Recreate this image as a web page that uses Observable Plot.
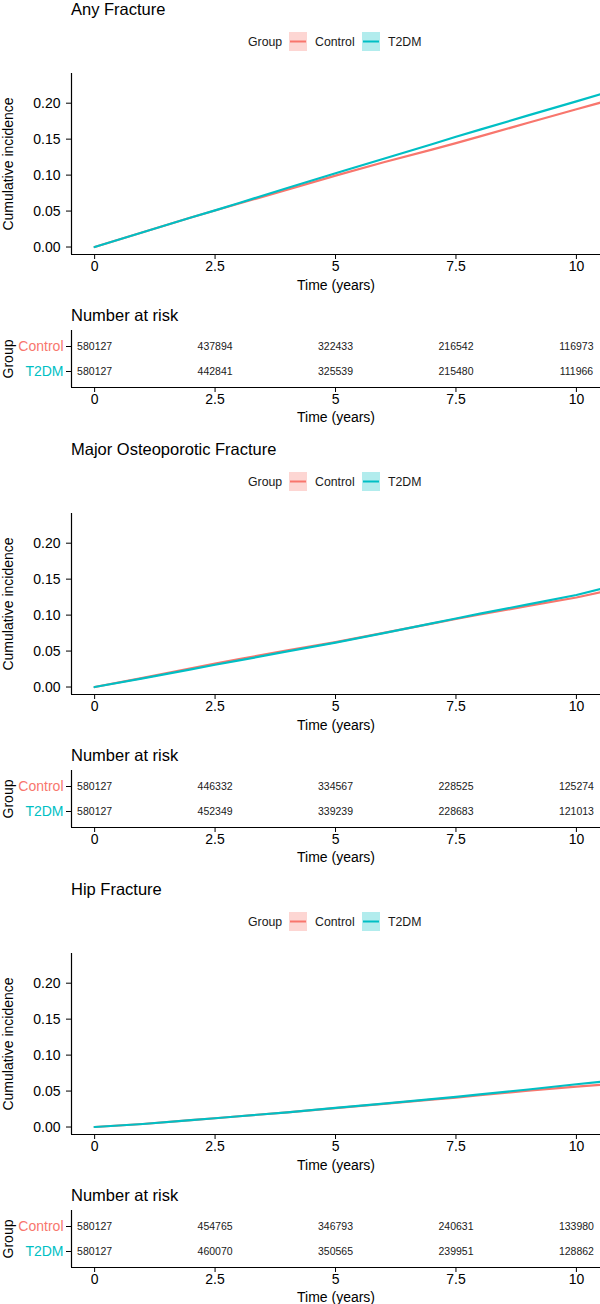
<!DOCTYPE html>
<html><head><meta charset="utf-8">
<script src="https://cdn.jsdelivr.net/npm/d3@7"></script>
<script src="https://cdn.jsdelivr.net/npm/@observablehq/plot@0.6"></script>
<style>
body{margin:0;background:#fff;font-family:"Liberation Sans",Arial,sans-serif;}
#root{position:relative;width:600px;height:1304px;overflow:hidden;background:#fff}
.abs{position:absolute;white-space:nowrap}
.title{font-size:16.5px;color:#000;line-height:17px}
.leg{font-size:12.3px;color:#1a1a1a;line-height:14px}
.abs svg{display:block}
</style></head><body><div id="root"></div><script>
// ---- data ----
const panelTitles = ["Any Fracture", "Major Osteoporotic Fracture", "Hip Fracture"];
const groups = ["Control", "T2DM"];
const groupColors = ["#F8766D", "#00BFC4"];
const times = [0, 1, 2, 2.5, 3, 4, 5, 6, 7, 7.5, 8, 9, 10, 10.5];

const anyControl = [0, 0.0205, 0.041, 0.0508, 0.0605, 0.0798, 0.0993, 0.1178, 0.1355, 0.1445, 0.1538, 0.1728, 0.1915, 0.2008];
const anyT2DM    = [0, 0.0205, 0.041, 0.051, 0.0613, 0.082, 0.1025, 0.1228, 0.143, 0.1533, 0.1632, 0.183, 0.2025, 0.2125];
const mofControl = [0, 0.0128, 0.026, 0.0325, 0.0387, 0.051, 0.0625, 0.0752, 0.0882, 0.0946, 0.1008, 0.1128, 0.1245, 0.1317];
const mofT2DM    = [0, 0.012, 0.0245, 0.031, 0.037, 0.0495, 0.0618, 0.075, 0.0886, 0.0953, 0.102, 0.115, 0.128, 0.1362];
const hipControl = [0, 0.0042, 0.0095, 0.0122, 0.015, 0.0205, 0.0263, 0.0322, 0.038, 0.041, 0.0442, 0.0505, 0.0562, 0.0588];
const hipT2DM    = [0, 0.0042, 0.0095, 0.0122, 0.015, 0.0205, 0.0265, 0.0325, 0.0388, 0.042, 0.0455, 0.0522, 0.0595, 0.063];

const riskTimes = [0, 2.5, 5, 7.5, 10];
const anyRiskControl = [580127, 437894, 322433, 216542, 116973];
const anyRiskT2DM    = [580127, 442841, 325539, 215480, 111966];
const mofRiskControl = [580127, 446332, 334567, 228525, 125274];
const mofRiskT2DM    = [580127, 452349, 339239, 228683, 121013];
const hipRiskControl = [580127, 454765, 346793, 240631, 133980];
const hipRiskT2DM    = [580127, 460070, 350565, 239951, 128862];

const xTicks = [0, 2.5, 5, 7.5, 10];
const yTicks = [0, 0.05, 0.10, 0.15, 0.20];

// ---- layout ----
const panels = [
  {title: panelTitles[0], c: anyControl, t: anyT2DM, rc: anyRiskControl, rt: anyRiskT2DM},
  {title: panelTitles[1], c: mofControl, t: mofT2DM, rc: mofRiskControl, rt: mofRiskT2DM},
  {title: panelTitles[2], c: hipControl, t: hipT2DM, rc: hipRiskControl, rt: hipRiskT2DM}
];
const root = document.getElementById("root");
const FONT = "Liberation Sans, Arial, sans-serif";
const xDomain = [-0.48, 10.5];
const yDomain = [-0.0104, 0.2413];

function place(el, left, top) {
  const d = document.createElement("div");
  d.className = "abs";
  d.style.left = left + "px";
  d.style.top = top + "px";
  d.appendChild(el);
  root.appendChild(d);
  return d;
}
function textDiv(txt, cls, left, top) {
  const s = document.createElement("span");
  s.textContent = txt;
  const d = place(s, left, top);
  d.classList.add(cls);
  return d;
}
function swatch(color, alphaFill) {
  const ns = "http://www.w3.org/2000/svg";
  const svg = document.createElementNS(ns, "svg");
  svg.setAttribute("width", 18); svg.setAttribute("height", 19);
  const r = document.createElementNS(ns, "rect");
  r.setAttribute("width", 18); r.setAttribute("height", 19); r.setAttribute("fill", alphaFill);
  const l = document.createElementNS(ns, "line");
  l.setAttribute("x1", 1); l.setAttribute("x2", 17); l.setAttribute("y1", 9.5); l.setAttribute("y2", 9.5);
  l.setAttribute("stroke", color); l.setAttribute("stroke-width", 2);
  svg.appendChild(r); svg.appendChild(l);
  return svg;
}

panels.forEach((p, i) => {
  const off = 440 * i;
  textDiv(p.title, "title", 71, off + 0.5);
  // legend
  textDiv("Group", "leg", 248, off + 34.5);
  place(swatch(groupColors[0], "rgba(248,118,109,0.3)"), 289, off + 32);
  textDiv(groups[0], "leg", 315, off + 34.5);
  place(swatch(groupColors[1], "rgba(0,191,196,0.3)"), 362, off + 32);
  textDiv(groups[1], "leg", 388, off + 34.5);

  const rows = [];
  times.forEach((tm, j) => rows.push({time: tm, value: p.c[j], group: groups[0]}));
  times.forEach((tm, j) => rows.push({time: tm, value: p.t[j], group: groups[1]}));

  const curve = Plot.plot({
    width: 600, height: 234, marginTop: 13, marginBottom: 40, marginLeft: 71, marginRight: 0,
    style: {fontFamily: FONT, background: "transparent", color: "#000", overflow: "visible"},
    x: {domain: xDomain},
    y: {domain: yDomain},
    color: {domain: groups, range: groupColors},
    marks: [
      Plot.ruleX([xDomain[0]], {stroke: "#000", strokeWidth: 1.2}),
      Plot.ruleY([yDomain[0]], {stroke: "#000", strokeWidth: 1.2}),
      Plot.axisX({ticks: xTicks, tickFormat: d => String(d), tickSize: 5, tickPadding: 2, fontSize: 14, label: null}),
      Plot.axisY({ticks: yTicks, tickFormat: d3.format(".2f"), tickSize: 5, tickPadding: 6, fontSize: 14, label: null}),
      Plot.line(rows, {x: "time", y: "value", stroke: "group", strokeWidth: 2.2}),
      Plot.text(["Time (years)"], {frameAnchor: "bottom", dy: 31, lineAnchor: "middle", textAnchor: "middle", fontSize: 14, fill: "#000"}),
      Plot.text(["Cumulative incidence"], {frameAnchor: "left", dx: -63, rotate: -90, textAnchor: "middle", lineAnchor: "middle", fontSize: 14, fill: "#000"})
    ]
  });
  place(curve, 0, off + 60);

  // risk table
  textDiv("Number at risk", "title", 71, off + 306.5);
  const riskRows = [];
  riskTimes.forEach((tm, j) => riskRows.push({time: tm, group: groups[0], n: p.rc[j]}));
  riskTimes.forEach((tm, j) => riskRows.push({time: tm, group: groups[1], n: p.rt[j]}));

  const table = Plot.plot({
    width: 600, height: 102, marginTop: 5, marginBottom: 40, marginLeft: 71, marginRight: 0,
    style: {fontFamily: FONT, background: "transparent", color: "#000", overflow: "visible"},
    x: {domain: xDomain},
    y: {type: "point", domain: groups, padding: 0.6},
    color: {domain: groups, range: groupColors},
    marks: [
      Plot.ruleX([xDomain[0]], {stroke: "#000", strokeWidth: 1.2}),
      Plot.axisX({ticks: xTicks, tickFormat: d => String(d), tickSize: 5, tickPadding: 2, fontSize: 14, label: null}),
      Plot.axisY({tickSize: 5, tickFormat: () => "", label: null}),
      Plot.text(groups, {frameAnchor: "left", y: d => d, dx: -8, textAnchor: "end", fill: d => d, fontSize: 14}),
      Plot.text(riskRows, {x: "time", y: "group", text: d => String(d.n), fontSize: 10.5, fill: "#1a1a1a"}),
      Plot.text(["Time (years)"], {frameAnchor: "bottom", dy: 30, lineAnchor: "middle", textAnchor: "middle", fontSize: 14, fill: "#000"}),
      Plot.text(["Group"], {frameAnchor: "left", dx: -62.5, rotate: -90, textAnchor: "middle", lineAnchor: "middle", fontSize: 14, fill: "#000"})
    ]
  });
  place(table, 0, off + 325);
  const tableLine = Plot.plot({
    width: 600, height: 102, marginTop: 5, marginBottom: 40, marginLeft: 71, marginRight: 0,
    style: {background: "transparent"},
    x: {domain: xDomain, axis: null},
    y: {domain: [0, 1], axis: null},
    marks: [Plot.ruleY([0], {stroke: "#000", strokeWidth: 1.2})]
  });
  place(tableLine, 0, off + 325);
});
</script></body></html>
